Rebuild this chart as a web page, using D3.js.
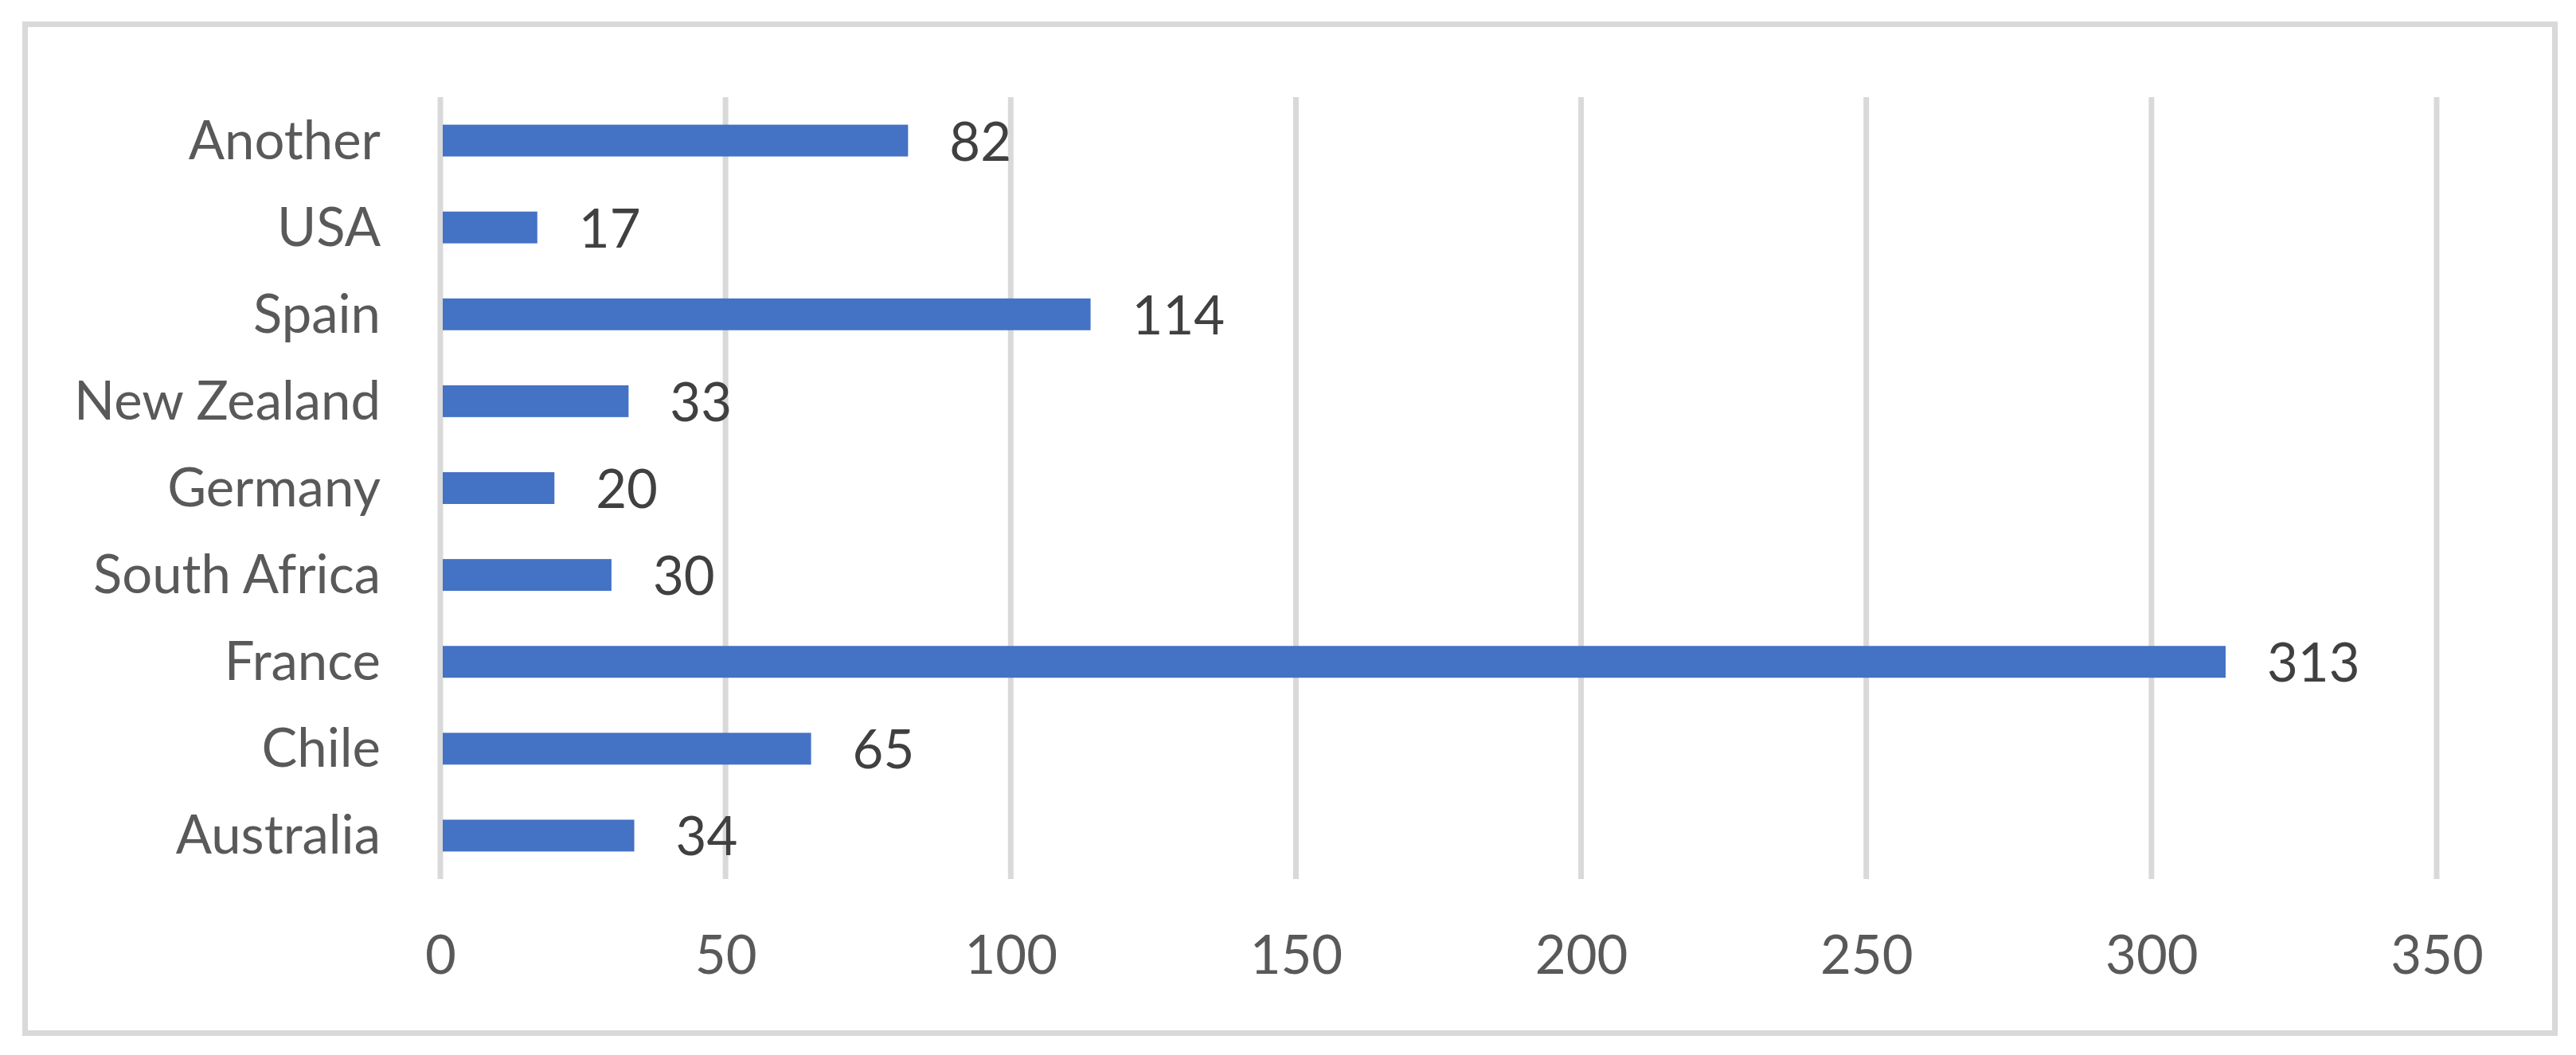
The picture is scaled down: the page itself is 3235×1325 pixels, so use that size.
<!DOCTYPE html>
<html>
<head>
<meta charset="utf-8">
<script src="https://cdn.jsdelivr.net/npm/d3@7"></script>
<style>
  body { margin: 0; background: #fff; }
  svg text { font-family: Lato, "Open Sans", sans-serif; }
</style>
</head>
<body>
<svg></svg>
<script>
let width = 3235,
height = 1325;

// categories top to bottom, as in the picture
let countries = ["Another", "USA", "Spain", "New Zealand", "Germany", "South Africa", "France", "Chile", "Australia"];
let counts = [82, 17, 114, 33, 20, 30, 313, 65, 34];
let xTicks = [0, 50, 100, 150, 200, 250, 300, 350];

let data = countries.map((c, i) => ({ name: c, value: counts[i] }));

let svg = d3.select("svg")
  .attr("width", width)
  .attr("height", height);

// chart frame
svg.append("rect")
  .attr("x", 31.5)
  .attr("y", 30.5)
  .attr("width", 3177)
  .attr("height", 1267)
  .attr("fill", "#fff")
  .attr("stroke", "#d9d9d9")
  .attr("stroke-width", 7);

let xScale = d3.scaleLinear().domain([0, 350]).range([553, 3060]);
let yScale = d3.scaleBand().domain(countries).range([122, 1104])
  .paddingInner(0.634).paddingOuter(0.317);

// vertical gridlines
svg.append("g")
  .selectAll("line")
  .data(xTicks)
  .enter()
  .append("line")
  .attr("x1", d => xScale(d))
  .attr("x2", d => xScale(d))
  .attr("y1", 122)
  .attr("y2", 1104)
  .attr("stroke", "#d9d9d9")
  .attr("stroke-width", 7);

// x tick labels
let xAxis = d3.axisBottom(xScale).tickValues(xTicks).tickSize(0).tickPadding(0);
let gx = svg.append("g")
  .attr("transform", "translate(0, 1176)")
  .call(xAxis);
gx.select(".domain").remove();
gx.selectAll("text")
  .attr("dy", null)
  .attr("y", 30)
  .attr("dominant-baseline", "middle")
  .style("font-family", "Lato, 'Open Sans', sans-serif")
  .style("font-size", "67px")
  .attr("fill", "#595959");

// category labels
let yAxis = d3.axisLeft(yScale).tickSize(0).tickPadding(0);
let gy = svg.append("g")
  .attr("transform", "translate(478, 6)")
  .call(yAxis);
gy.select(".domain").remove();
gy.selectAll("text")
  .attr("dy", null)
  .attr("dominant-baseline", "middle")
  .style("font-family", "Lato, 'Open Sans', sans-serif")
  .style("font-size", "67px")
  .attr("fill", "#595959");

// bars
svg.append("g")
  .selectAll("rect")
  .data(data)
  .enter()
  .append("rect")
  .attr("x", xScale(0) + 3)
  .attr("y", d => yScale(d.name))
  .attr("width", d => xScale(d.value) - xScale(0) - 3)
  .attr("height", yScale.bandwidth())
  .attr("fill", "#4472c4");

// value labels
svg.append("g")
  .selectAll("text")
  .data(data)
  .enter()
  .append("text")
  .attr("x", d => xScale(d.value) + 52)
  .attr("y", d => yScale(d.name) + yScale.bandwidth() / 2 + 8)
  .attr("dominant-baseline", "middle")
  .style("font-size", "67px")
  .attr("fill", "#404040")
  .text(d => d.value);
</script>
</body>
</html>
